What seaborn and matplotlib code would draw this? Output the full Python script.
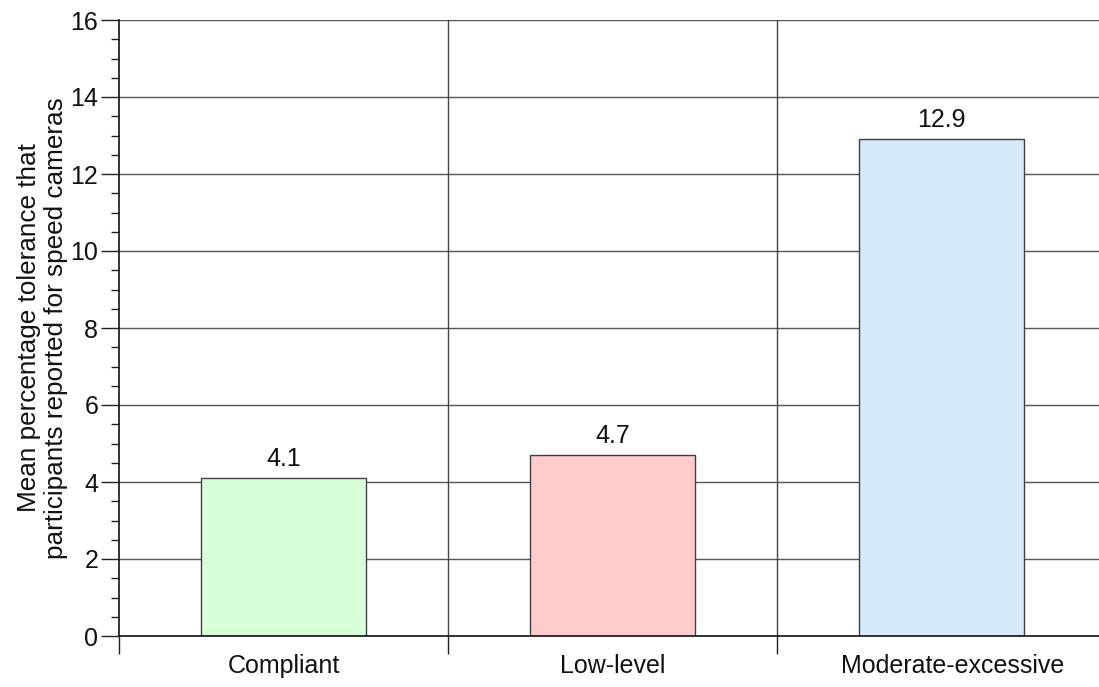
import matplotlib
matplotlib.use("Agg")
import matplotlib.pyplot as plt
import matplotlib.transforms as mtransforms
from matplotlib.ticker import MultipleLocator
import seaborn as sns
import pandas as pd

categories = ["Compliant", "Low-level", "Moderate-excessive"]
values = [4.1, 4.7, 12.9]
bar_colors = ["#D9FFD9", "#FFCCCC", "#D7EAFC"]
y_label = "Mean percentage tolerance that\nparticipants reported for speed cameras"

sns.set_theme(style="white")
plt.rcParams["font.family"] = ["Liberation Sans", "DejaVu Sans"]

FS = 18

df = pd.DataFrame({"group": categories, "value": values})

fig = plt.figure(figsize=(10.99, 6.87), dpi=100)
W, H = 1099, 687
ax = fig.add_axes([119 / W, (H - 636) / H, (1106 - 119) / W, (636 - 20) / H])

sns.barplot(data=df, x="group", y="value", hue="group", palette=bar_colors,
            width=0.5, edgecolor="#404040", linewidth=1.0, legend=False,
            saturation=1, ax=ax, zorder=3)

ax.set_xlim(-0.5, 2.5)
ax.set_ylim(0, 16)
ax.yaxis.set_major_locator(MultipleLocator(2))
ax.yaxis.set_minor_locator(MultipleLocator(0.5))

# horizontal grid at major ticks, vertical separators between categories
ax.grid(False)
for yv in range(2, 17, 2):
    ax.axhline(yv, color="#555555", linewidth=1.0, zorder=1)
for xv in [0.5, 1.5]:
    ax.axvline(xv, color="#444444", linewidth=1.0, zorder=1)

ax.set_xticks([-0.5, 0.5, 1.5], minor=False)
ax.set_xticklabels([])
ax.set_xticks([0, 1, 2], minor=True)
ax.set_xticklabels(categories, minor=True)
ax.tick_params(axis="x", which="major", direction="out", length=13, width=1, color="#222222", bottom=True)
ax.tick_params(axis="x", which="minor", length=0, labelsize=FS, pad=13, colors="#111111")
ax.tick_params(axis="y", which="major", direction="out", length=13, width=1, color="#222222",
               labelsize=FS, pad=2, left=True, labelcolor="#111111")
ax.tick_params(axis="y", which="minor", direction="out", length=6, width=1, color="#222222", left=True)

# the last category label sits a little right of its slot centre
last = ax.get_xticklabels(minor=True)[-1]
last.set_transform(last.get_transform() + mtransforms.ScaledTranslation(11 / 100, 0, fig.dpi_scale_trans))

for s in ["top", "right"]:
    ax.spines[s].set_visible(False)
for s in ["left", "bottom"]:
    ax.spines[s].set_color("#111111")
    ax.spines[s].set_linewidth(1.2)
    ax.spines[s].set_zorder(4)

ax.set_xlabel("")
ax.set_ylabel(y_label, fontsize=18.8, color="#111111", labelpad=2, linespacing=1.12)

for i, v in enumerate(values):
    ax.annotate(f"{v:.1f}", xy=(i, v), xytext=(0, 5), textcoords="offset points",
                ha="center", va="bottom", fontsize=FS, color="#111111")

fig.savefig("out.png", dpi=100)
